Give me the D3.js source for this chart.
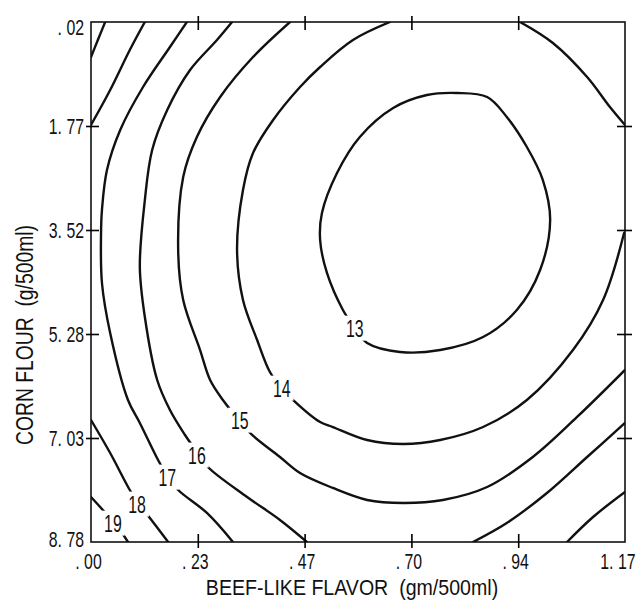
<!DOCTYPE html>
<html>
<head>
<meta charset="utf-8">
<script src="https://cdn.jsdelivr.net/npm/d3@7"></script>
<style>
  body { margin: 0; background: #fff; }
  svg { display: block; }
  text { font-family: "Liberation Sans", Arimo, sans-serif; fill: #111; }
</style>
</head>
<body>
<svg width="640" height="602"></svg>
<script>
// axis ticks (design levels) and the labels printed on the chart
const xTickValues = [0, 0.234, 0.468, 0.702, 0.936, 1.17];
const xTickLabels = [". 00", ". 23", ". 47", ". 70", ". 94", "1. 17"];
const yTickValues = [0.02, 1.772, 3.524, 5.276, 7.028, 8.78];
const yTickLabels = [". 02", "1. 77", "3. 52", "5. 28", "7. 03", "8. 78"];

// contour lines, [flavor g/500ml, corn flour g/500ml]
const level13 = [[0.578,5.175],[0.605,5.428],[0.677,5.579],[0.765,5.546],[0.859,5.327],[0.933,4.872],
  [0.984,4.198],[1.006,3.356],[0.990,2.682],[0.955,2.126],[0.911,1.620],[0.868,1.283],[0.802,1.216],
  [0.736,1.250],[0.662,1.469],[0.589,1.957],[0.539,2.564],[0.506,3.238],[0.502,3.692],[0.517,4.248],[0.552,4.872]];
const level14 = [
  [[0.655,0.02],[0.574,0.323],[0.502,0.778],[0.458,1.115],[0.399,1.671],[0.355,2.227],[0.333,2.850],
   [0.320,3.861],[0.333,4.703],[0.364,5.377],[0.392,5.916],[0.418,6.186],[0.443,6.388],[0.502,6.758],
   [0.530,6.843],[0.605,7.062],[0.684,7.129],[0.765,7.062],[0.859,6.843],[0.955,6.388],[1.056,5.546],
   [1.122,4.703],[1.168,3.575]],
  [[0.940,0.02],[1.012,0.374],[1.087,0.947],[1.137,1.452],[1.17,1.755]]
];
const level15 = [
  [[0.436,0.02],[0.355,0.610],[0.283,1.283],[0.232,1.957],[0.202,2.631],[0.191,3.861],[0.202,4.703],
   [0.239,5.546],[0.261,6.051],[0.289,6.388],[0.326,6.742],[0.353,6.977],[0.414,7.348],[0.458,7.618],
   [0.530,7.870],[0.605,8.072],[0.684,8.123],[0.771,8.072],[0.868,7.853],[0.968,7.348],[1.065,6.674],[1.17,5.882]]
];
const level16 = [
  [[0.309,0.02],[0.276,0.323],[0.217,0.829],[0.167,1.502],[0.134,2.176],[0.118,3.019],[0.107,4.147],
   [0.118,4.990],[0.145,6.051],[0.173,6.556],[0.206,6.977],[0.232,7.264],[0.256,7.517],[0.342,8.022],
   [0.414,8.409],[0.473,8.78]],
  [[0.837,8.78],[0.911,8.460],[0.999,7.954],[1.087,7.348],[1.17,6.775]]
];
const level17 = [
  [[0.210,0.02],[0.173,0.441],[0.114,1.115],[0.064,1.839],[0.035,2.513],[0.024,3.187],[0.022,3.575],
   [0.024,4.417],[0.042,5.259],[0.081,6.388],[0.107,6.775],[0.147,7.399],[0.167,7.668],[0.191,7.904],
   [0.254,8.291],[0.311,8.78]],
  [[1.043,8.78],[1.100,8.359],[1.17,7.938]]
];
const level18 = [
  [[0.118,0.02],[0.085,0.492],[0.042,1.166],[0,1.755]],
  [[0,6.725],[0.042,7.281],[0.085,7.904],[0.103,8.123],[0.129,8.376],[0.169,8.78]]
];
const level19 = [
  [[0.031,0.02],[0.015,0.323],[0,0.610]],
  [[0,8.022],[0.026,8.241],[0.048,8.426],[0.068,8.628],[0.081,8.78]]
];

// where each level is written on its line
const labelLevels = [13, 14, 15, 16, 17, 18, 19];
const labelFlavor = [0.578, 0.418, 0.326, 0.232, 0.167, 0.101, 0.048];
const labelFlour  = [5.175, 6.186, 6.725, 7.314, 7.685, 8.140, 8.460];

const svg = d3.select("svg");
const width = +svg.attr("width");
const height = +svg.attr("height");
const margin = {top: 22, right: 15, bottom: 60, left: 91};

// squeeze text sideways, the original lettering is a condensed face
function condense(sel, k) {
  sel.each(function() {
    const w = this.getComputedTextLength();
    d3.select(this).attr("textLength", w * k).attr("lengthAdjust", "spacingAndGlyphs");
  });
}

svg.append("rect").attr("width", width).attr("height", height).attr("fill", "#fff");

const x = d3.scaleLinear().domain([0, 1.17]).range([margin.left, width - margin.right]);
const y = d3.scaleLinear().domain([0.02, 8.78]).range([margin.top, height - margin.bottom]);

svg.append("clipPath").attr("id", "plot")
  .append("rect")
    .attr("x", x(0)).attr("y", y(0.02))
    .attr("width", x(1.17) - x(0)).attr("height", y(8.78) - y(0.02));

const open = d3.line().x(d => x(d[0])).y(d => y(d[1])).curve(d3.curveCatmullRom.alpha(0.5));
const closed = d3.line().x(d => x(d[0])).y(d => y(d[1])).curve(d3.curveCatmullRomClosed.alpha(0.5));

const contours = [
  {level: 14, pieces: level14}, {level: 15, pieces: level15}, {level: 16, pieces: level16},
  {level: 17, pieces: level17}, {level: 18, pieces: level18}, {level: 19, pieces: level19}
];

const plot = svg.append("g").attr("clip-path", "url(#plot)");

plot.append("path")
  .attr("d", closed(level13))
  .attr("fill", "none").attr("stroke", "#111").attr("stroke-width", 2.4);

plot.selectAll(".contour")
  .data(contours.flatMap(c => c.pieces.map(p => ({level: c.level, pts: p}))))
  .enter().append("path")
    .attr("class", "contour")
    .attr("d", d => open(d.pts))
    .attr("fill", "none")
    .attr("stroke", "#111")
    .attr("stroke-width", 2.4)
    .attr("stroke-linecap", "round");

// level labels, with a white patch to break the line
const lab = svg.selectAll(".lab")
  .data(labelLevels)
  .enter().append("g")
    .attr("class", "lab")
    .attr("transform", (d, i) => `translate(${x(labelFlavor[i])},${y(labelFlour[i])})`);

lab.append("text")
  .attr("text-anchor", "middle")
  .attr("dy", "0.36em")
  .style("font-size", "24px")
  .text(d => d)
  .call(condense, 0.66);

lab.each(function() {
  const g = d3.select(this);
  const b = g.select("text").node().getBBox();
  g.insert("rect", "text")
    .attr("x", b.x - 3).attr("y", b.y + 1)
    .attr("width", b.width + 6).attr("height", b.height - 2)
    .attr("fill", "#fff");
});

// frame
svg.append("rect")
  .attr("x", x(0)).attr("y", y(0.02))
  .attr("width", x(1.17) - x(0)).attr("height", y(8.78) - y(0.02))
  .attr("fill", "none").attr("stroke", "#111").attr("stroke-width", 1.6);

const last = xTickValues.length - 1;
const hideEnds = (d, i) => (i === 0 || i === last) ? "none" : null;

const axisB = svg.append("g")
  .attr("transform", `translate(0,${y(8.78)})`)
  .call(d3.axisBottom(x).tickValues(xTickValues).tickFormat((d, i) => xTickLabels[i]).tickSize(6));
axisB.select(".domain").remove();
axisB.selectAll(".tick line").attr("y1", -8).attr("stroke-width", 1.6).style("display", hideEnds);
axisB.selectAll(".tick text")
  .attr("y", 27).attr("dy", null)
  .attr("dx", (d, i) => i === last ? 10 : -3)
  .attr("text-anchor", (d, i) => i === last ? "end" : "middle")
  .style("font-size", "22px")
  .call(condense, 0.72);

const axisT = svg.append("g")
  .attr("transform", `translate(0,${y(0.02)})`)
  .call(d3.axisTop(x).tickValues(xTickValues).tickSize(6));
axisT.select(".domain").remove();
axisT.selectAll(".tick text").remove();
axisT.selectAll(".tick line").attr("y1", 8).attr("stroke-width", 1.6).style("display", hideEnds);

const axisL = svg.append("g")
  .attr("transform", `translate(${x(0)},0)`)
  .call(d3.axisLeft(y).tickValues(yTickValues).tickFormat((d, i) => yTickLabels[i]).tickSize(5));
axisL.select(".domain").remove();
axisL.selectAll(".tick line").attr("x1", 8).attr("stroke-width", 1.6).style("display", hideEnds);
axisL.selectAll(".tick text")
  .attr("x", -7).attr("dy", (d, i) => i === 0 ? "0.58em" : i === last ? "0.2em" : "0.36em")
  .style("font-size", "22px")
  .call(condense, 0.72);

const axisR = svg.append("g")
  .attr("transform", `translate(${x(1.17)},0)`)
  .call(d3.axisRight(y).tickValues(yTickValues).tickSize(7));
axisR.select(".domain").remove();
axisR.selectAll(".tick text").remove();
axisR.selectAll(".tick line").attr("x1", -8).attr("stroke-width", 1.6).style("display", hideEnds);

// axis titles
svg.append("text")
  .attr("x", 352).attr("y", 595)
  .attr("text-anchor", "middle")
  .style("font-size", "22px")
  .style("white-space", "pre")
  .text("BEEF-LIKE FLAVOR  (gm/500ml)")
  .call(condense, 0.89);

svg.append("text")
  .attr("transform", "translate(33,335) rotate(-90)")
  .attr("text-anchor", "middle")
  .style("font-size", "23px")
  .style("white-space", "pre")
  .text("CORN FLOUR  (g/500ml)")
  .call(condense, 0.84);
</script>
</body>
</html>
